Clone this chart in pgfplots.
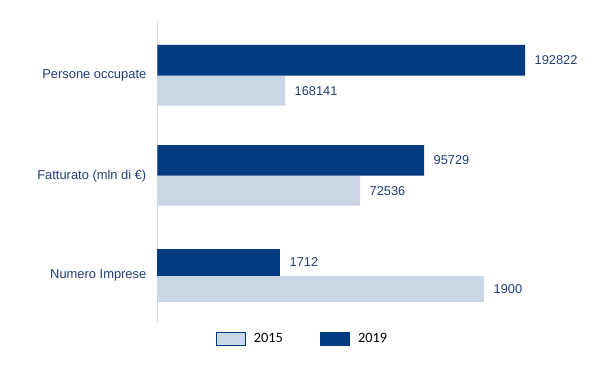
\documentclass[border=0pt]{standalone}
\usepackage{pgfplots}
\pgfplotsset{compat=1.18}
\usepackage{pgfplotstable}
\usepackage{fontspec}
\setmainfont{Liberation Sans}
\newfontfamily\legfont{Carlito}
\definecolor{dkblue}{HTML}{003A80}
\definecolor{ltblue}{HTML}{CBD6E4}
\definecolor{txtblue}{HTML}{1F3D78}
\definecolor{axgray}{HTML}{DADADA}

% pos = vertical centre of the bar, len = drawn bar length, val = printed value
\pgfplotstableread{
pos len val
60.35 367.5 192822
160.35 266.5 95729
}\tabAnew
\pgfplotstableread{
pos len val
90.7 127.5 168141
190.7 202.5 72536
}\tabBnew
\pgfplotstableread{
pos len val
262.35 122.5 1712
}\tabAnum
\pgfplotstableread{
pos len val
289.0 326.5 1900
}\tabBnum

\begin{document}
\begin{tikzpicture}
\begin{axis}[
  scale only axis, width=436bp, height=302bp,
  xmin=0, xmax=436, ymin=20, ymax=322, y dir=reverse,
  axis x line=none, axis y line*=left,
  axis line style={axgray, line width=1.5bp, -},
  xtick=\empty,
  ytick={75.7,175.7,275.7},
  yticklabels={Persone occupate, Fatturato (mln di €), Numero Imprese},
  major tick length=0pt,
  yticklabel style={font=\fontsize{12.9bp}{15bp}\selectfont, text=txtblue, inner sep=0pt, xshift=-11bp},
  clip=false,
  xbar, bar shift=0pt,
  nodes near coords, point meta=explicit symbolic,
  every node near coord/.append style={font=\fontsize{12.8bp}{15bp}\selectfont, text=txtblue, inner sep=0pt, anchor=west, xshift=9.5bp},
  legend columns=2,
  legend style={draw=none, fill=none, inner sep=0pt, at={(0.1330,-0.0563)}, anchor=west,
    font=\legfont\fontsize{14.3bp}{16bp}\selectfont,
    nodes={inner sep=0pt},
    /tikz/every odd column/.append style={column sep=8.5bp},
    /tikz/every even column/.append style={column sep=37bp}},
  legend image code/.code={\draw[#1, draw=dkblue, line width=0.7bp] (0bp,-6.5bp) rectangle (29bp,6.5bp);},
]
\addplot[fill=ltblue, draw=none, bar width=30] table[x=len, y=pos, meta=val] {\tabBnew};
\addlegendentry{2015}
\addplot[fill=dkblue, draw=none, bar width=30.7] table[x=len, y=pos, meta=val] {\tabAnew};
\addlegendentry{2019}
\addplot[fill=ltblue, draw=none, bar width=26.6, forget plot] table[x=len, y=pos, meta=val] {\tabBnum};
\addplot[fill=dkblue, draw=none, bar width=26.7, forget plot] table[x=len, y=pos, meta=val] {\tabAnum};
\end{axis}
\path (current axis.south west) ++(-157.5bp,-60bp) rectangle ++(594bp,382bp);
\end{tikzpicture}
\end{document}
